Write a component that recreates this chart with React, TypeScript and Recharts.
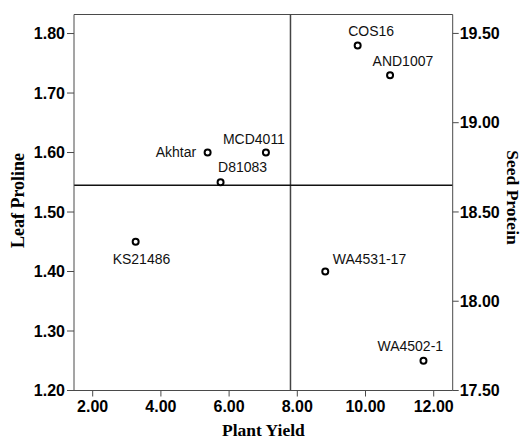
import React from "react";
import {
  ScatterChart,
  Scatter,
  XAxis,
  YAxis,
  ReferenceLine,
  Label,
} from "recharts";

const cultivars = ["Akhtar", "MCD4011", "D81083", "COS16", "AND1007", "KS21486", "WA4531-17", "WA4502-1"];
const plantYield = [5.37, 7.08, 5.75, 9.77, 10.72, 3.26, 8.82, 11.7];
const leafProline = [1.6, 1.6, 1.55, 1.78, 1.73, 1.45, 1.4, 1.25];

const xTicks = [2, 4, 6, 8, 10, 12];
const leftTicks = [1.2, 1.3, 1.4, 1.5, 1.6, 1.7, 1.8];
const rightTicks = [17.5, 18, 18.5, 19, 19.5];

const meanYield = 7.8;
const meanProline = 1.545;

const xDomain = [1.452, 12.557];
const leftDomain = [1.2, 1.832];
const rightDomain = [17.5, 19.606];

// label placement relative to the marker (SPSS puts them where it likes)
const labelPlace: Record<string, { dx: number; dy: number; anchor: "start" | "middle" | "end" }> = {
  Akhtar: { dx: -11.5, dy: 4.5, anchor: "end" },
  MCD4011: { dx: -12, dy: -8.5, anchor: "middle" },
  D81083: { dx: -2.5, dy: -10, anchor: "start" },
  COS16: { dx: -9.5, dy: -9.5, anchor: "start" },
  AND1007: { dx: -17.5, dy: -9, anchor: "start" },
  KS21486: { dx: -23, dy: 22.5, anchor: "start" },
  "WA4531-17": { dx: 7.5, dy: -7.5, anchor: "start" },
  "WA4502-1": { dx: -46, dy: -10, anchor: "start" },
};

const points = cultivars.map((name, i) => ({
  name,
  yield: plantYield[i],
  proline: leafProline[i],
}));

const sans = "Arial, 'Liberation Sans', sans-serif";
const serif = "'Times New Roman', 'Liberation Serif', serif";
const axisColor = "#4a4a4a";
const tickStyle = { fontFamily: sans, fontSize: 16, fontWeight: 700, fill: "#000" };
const fmt = (v: number) => v.toFixed(2);

function PointMark(props: any) {
  const { cx, cy, payload } = props;
  const p = labelPlace[payload.name] || { dx: 6, dy: -6, anchor: "start" };
  return (
    <g>
      <circle cx={cx} cy={cy} r={3} fill="#fff" stroke="#000" strokeWidth={2} />
      <text
        x={cx + p.dx}
        y={cy + p.dy}
        textAnchor={p.anchor}
        fontFamily={sans}
        fontSize={14}
        fill="#111"
      >
        {payload.name}
      </text>
    </g>
  );
}

export default function App() {
  return (
    <div style={{ position: "absolute", left: 0, top: 0, background: "#fff" }}>
      <ScatterChart
        width={523}
        height={441}
        margin={{ top: 14.5, right: 0, bottom: 0, left: 0 }}
      >
        <XAxis
          type="number"
          dataKey="yield"
          domain={xDomain}
          ticks={xTicks}
          tickFormatter={fmt}
          allowDataOverflow
          height={50.5}
          tickSize={6}
          tickMargin={4}
          stroke={axisColor}
          tick={tickStyle}
        >
          <Label
            content={({ viewBox }: any) => (
              <text
                x={viewBox.x + viewBox.width / 2}
                y={436}
                textAnchor="middle"
                fontFamily={serif}
                fontSize={17.5}
                fontWeight={700}
                fill="#000"
              >
                Plant Yield
              </text>
            )}
          />
        </XAxis>
        <YAxis
          yAxisId="left"
          type="number"
          dataKey="proline"
          domain={leftDomain}
          ticks={leftTicks}
          tickFormatter={fmt}
          allowDataOverflow
          width={74}
          tickSize={7}
          tickMargin={2}
          stroke={axisColor}
          tick={tickStyle}
        >
          <Label
            content={({ viewBox }: any) => {
              const cy = viewBox.y + viewBox.height / 2 - 2;
              return (
                <text
                  x={18}
                  y={cy}
                  transform={`rotate(-90, 18, ${cy})`}
                  textAnchor="middle"
                  dominantBaseline="central"
                  fontFamily={serif}
                  fontSize={18}
                  fontWeight={700}
                  fill="#000"
                >
                  Leaf Proline
                </text>
              );
            }}
          />
        </YAxis>
        <YAxis
          yAxisId="right"
          orientation="right"
          type="number"
          domain={rightDomain}
          ticks={rightTicks}
          tickFormatter={fmt}
          allowDataOverflow
          width={70.3}
          tickSize={6}
          tickMargin={1}
          stroke={axisColor}
          tick={tickStyle}
        >
          <Label
            content={({ viewBox }: any) => {
              const cy = viewBox.y + viewBox.height / 2 - 5;
              return (
                <text
                  x={512.5}
                  y={cy}
                  transform={`rotate(90, 512.5, ${cy})`}
                  textAnchor="middle"
                  dominantBaseline="central"
                  fontFamily={serif}
                  fontSize={17.5}
                  fontWeight={700}
                  fill="#000"
                >
                  Seed Protein
                </text>
              );
            }}
          />
        </YAxis>
        <ReferenceLine yAxisId="left" y={leftDomain[1]} stroke={axisColor} strokeWidth={1.2} />
        <ReferenceLine yAxisId="left" x={meanYield} stroke="#444" strokeWidth={1.5} />
        <ReferenceLine yAxisId="left" y={meanProline} stroke="#111" strokeWidth={1.5} />
        <Scatter
          yAxisId="left"
          data={points}
          shape={PointMark}
          isAnimationActive={false}
        />
      </ScatterChart>
    </div>
  );
}
